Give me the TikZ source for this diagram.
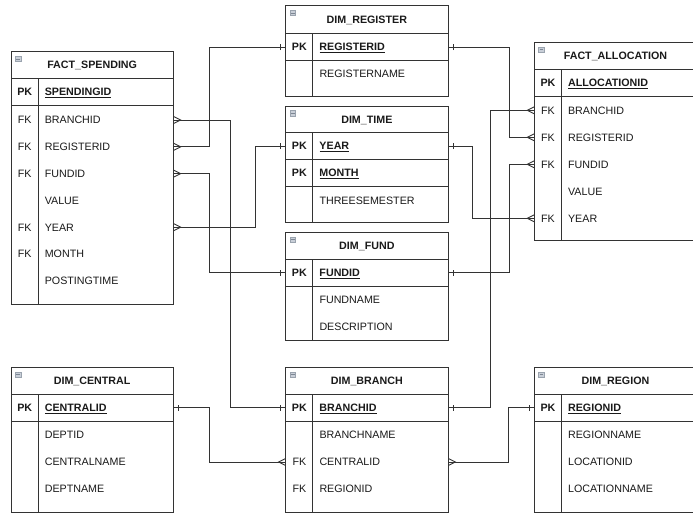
\documentclass[tikz,border=0pt]{standalone}
\usepackage{fontspec}
\setmainfont{Liberation Sans}
\definecolor{ln}{HTML}{333333}
\definecolor{tx}{HTML}{1A1A1A}
\definecolor{icfill}{HTML}{C9CFD8}
\definecolor{icdraw}{HTML}{9AA3AE}
\definecolor{icminus}{HTML}{7D8794}
\tikzset{
  tb/.style={draw=ln, line width=0.9pt},
  ttl/.style={font=\bfseries, text=tx, inner sep=0pt, text height=7.7pt, text depth=0pt},
  rowbox/.style={anchor=west, inner sep=0pt, text width=162.3pt, align=left, text height=7.7pt, text depth=0pt, text=tx},
  conn/.style={draw=ln, line width=0.9pt},
  icon/.style={draw=icdraw, fill=icfill, minimum size=5.5pt, inner sep=0pt, line width=0.5pt},
  icm/.style={draw=icminus, line width=0.8pt},
}
% table frame: name, x, top, header bottom, bottom, title
\newcommand{\tframe}[6]{%
  \draw[tb] (#2,#3) rectangle (#2+162.3,#5);
  \draw[tb] (#2,#4) -- (#2+162.3,#4);
  \draw[tb] (#2+27,#4) -- (#2+27,#5);
  \node[ttl] (#1-t) at (#2+81.15,{(#3+#4)/2}) {#6};
  \node[icon] (#1-i) at (#2+7,#3+7.2) {};
  \draw[icm] ([xshift=1.2pt]#1-i.west) -- ([xshift=-1.2pt]#1-i.east);
}
% separator line under key rows: x, y
\newcommand{\tsep}[2]{\draw[tb] (#1,#2) -- (#1+162.3,#2);}
% row: name, x, y, key, field
\newcommand{\krow}[5]{\node[rowbox] (#1) at (#2,#3) {\makebox[27pt][c]{#4}\hspace{6.6pt}#5};}
\newcommand{\pkrow}[4]{\krow{#1}{#2}{#3}{\textbf{PK}}{\textbf{\underline{#4}}}}
\newcommand{\manyE}[1]{\draw[conn] ([yshift=-3.5pt]#1) -- ([xshift=7pt]#1) -- ([yshift=3.5pt]#1);}
\newcommand{\manyW}[1]{\draw[conn] ([yshift=-3.5pt]#1) -- ([xshift=-7pt]#1) -- ([yshift=3.5pt]#1);}
\newcommand{\oneE}[1]{\draw[conn] ([xshift=5pt,yshift=-3pt]#1) -- ([xshift=5pt,yshift=3pt]#1);}
\newcommand{\oneW}[1]{\draw[conn] ([xshift=-5pt,yshift=-3pt]#1) -- ([xshift=-5pt,yshift=3pt]#1);}
\begin{document}
\begin{tikzpicture}[x=1pt,y=-1pt]
\fontsize{10.7}{12.8}\selectfont
\useasboundingbox[fill=white] (0,0) rectangle (693,515);

% FACT_SPENDING
\tframe{fs}{11}{51.7}{78.3}{304.3}{FACT\_SPENDING}
\tsep{11}{105}
\pkrow{fs-pk}{11}{91.7}{SPENDINGID}
\krow{fs-br}{11}{120}{FK}{BRANCHID}
\krow{fs-reg}{11}{146.8}{FK}{REGISTERID}
\krow{fs-fund}{11}{173.6}{FK}{FUNDID}
\krow{fs-val}{11}{200.4}{}{VALUE}
\krow{fs-year}{11}{227.2}{FK}{YEAR}
\krow{fs-month}{11}{254}{FK}{MONTH}
\krow{fs-post}{11}{280.8}{}{POSTINGTIME}

% DIM_REGISTER
\tframe{dr}{285.7}{5.7}{33.3}{96}{DIM\_REGISTER}
\tsep{285.7}{60.7}
\pkrow{dr-pk}{285.7}{47}{REGISTERID}
\krow{dr-name}{285.7}{74}{}{REGISTERNAME}

% DIM_TIME
\tframe{dt}{285.7}{106}{132.7}{222.3}{DIM\_TIME}
\tsep{285.7}{159.4}
\tsep{285.7}{186.4}
\pkrow{dt-year}{285.7}{146}{YEAR}
\pkrow{dt-month}{285.7}{172.9}{MONTH}
\krow{dt-three}{285.7}{200.5}{}{THREESEMESTER}

% DIM_FUND
\tframe{df}{285.7}{232.3}{259}{340}{DIM\_FUND}
\tsep{285.7}{286}
\pkrow{df-pk}{285.7}{272.5}{FUNDID}
\krow{df-name}{285.7}{300}{}{FUNDNAME}
\krow{df-desc}{285.7}{326.8}{}{DESCRIPTION}

% FACT_ALLOCATION
\tframe{fa}{534.3}{42.3}{69.3}{240}{FACT\_ALLOCATION}
\tsep{534.3}{96.7}
\pkrow{fa-pk}{534.3}{83}{ALLOCATIONID}
\krow{fa-br}{534.3}{110.3}{FK}{BRANCHID}
\krow{fa-reg}{534.3}{137.3}{FK}{REGISTERID}
\krow{fa-fund}{534.3}{164.3}{FK}{FUNDID}
\krow{fa-val}{534.3}{191.3}{}{VALUE}
\krow{fa-year}{534.3}{218.3}{FK}{YEAR}

% DIM_CENTRAL
\tframe{dc}{11}{367.3}{394}{512.3}{DIM\_CENTRAL}
\tsep{11}{421}
\pkrow{dc-pk}{11}{407.8}{CENTRALID}
\krow{dc-dept}{11}{435}{}{DEPTID}
\krow{dc-name}{11}{462}{}{CENTRALNAME}
\krow{dc-dname}{11}{489}{}{DEPTNAME}

% DIM_BRANCH
\tframe{db}{285.7}{367.3}{394}{512.3}{DIM\_BRANCH}
\tsep{285.7}{421}
\pkrow{db-pk}{285.7}{407.8}{BRANCHID}
\krow{db-name}{285.7}{435}{}{BRANCHNAME}
\krow{db-cen}{285.7}{462}{FK}{CENTRALID}
\krow{db-reg}{285.7}{489}{FK}{REGIONID}

% DIM_REGION
\tframe{dg}{534.3}{367.3}{394}{512.3}{DIM\_REGION}
\tsep{534.3}{421}
\pkrow{dg-pk}{534.3}{407.8}{REGIONID}
\krow{dg-name}{534.3}{435}{}{REGIONNAME}
\krow{dg-loc}{534.3}{462}{}{LOCATIONID}
\krow{dg-lname}{534.3}{489}{}{LOCATIONNAME}

% connectors
\draw[conn] (fs-br.east) -- ++(56.3,0) |- (db-pk.west);
\draw[conn] (fs-reg.east) -- ++(36,0) |- (dr-pk.west);
\draw[conn] (fs-fund.east) -- ++(36,0) |- (df-pk.west);
\draw[conn] (fs-year.east) -- ++(81.7,0) |- (dt-year.west);
\draw[conn] (dr-pk.east) -- ++(60.6,0) |- (fa-reg.west);
\draw[conn] (dt-year.east) -- ++(23.7,0) |- (fa-year.west);
\draw[conn] (df-pk.east) -- ++(60.8,0) |- (fa-fund.west);
\draw[conn] (db-pk.east) -- ++(41.8,0) |- (fa-br.west);
\draw[conn] (dc-pk.east) -- ++(36,0) |- (db-cen.west);
\draw[conn] (db-cen.east) -- ++(60,0) |- (dg-pk.west);

% many ends
\manyE{fs-br.east}
\manyE{fs-reg.east}
\manyE{fs-fund.east}
\manyE{fs-year.east}
\manyW{fa-br.west}
\manyW{fa-reg.west}
\manyW{fa-fund.west}
\manyW{fa-year.west}
\manyW{db-cen.west}
\manyE{db-cen.east}
% one ends
\oneW{db-pk.west}
\oneW{dr-pk.west}
\oneW{df-pk.west}
\oneW{dt-year.west}
\oneW{dg-pk.west}
\oneE{dr-pk.east}
\oneE{dt-year.east}
\oneE{df-pk.east}
\oneE{db-pk.east}
\oneE{dc-pk.east}
\end{tikzpicture}
\end{document}
